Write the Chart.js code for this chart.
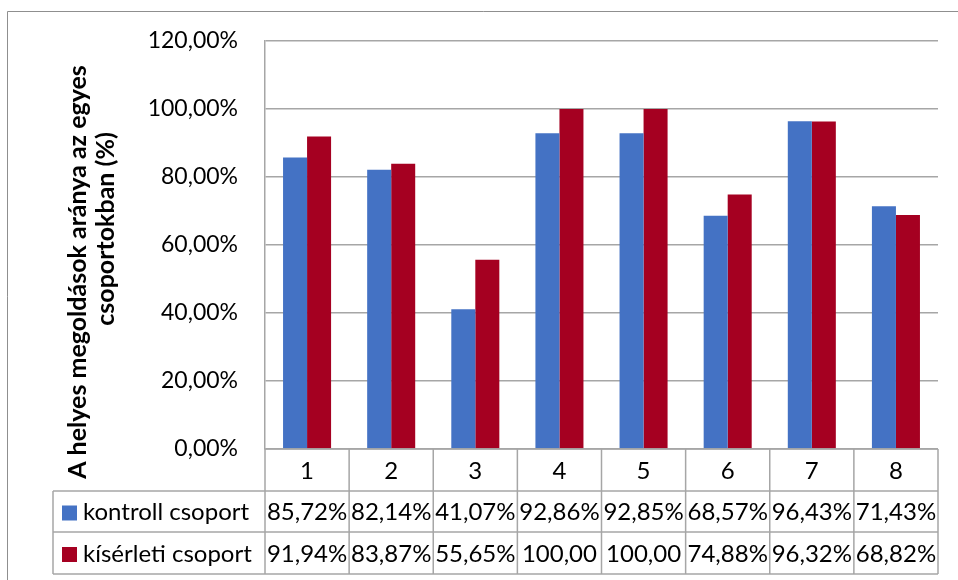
<!DOCTYPE html>
<html>
<head>
<meta charset="utf-8">
<script src="https://cdn.jsdelivr.net/npm/chart.js@4/dist/chart.umd.min.js"></script>
<style>
  html, body { margin: 0; padding: 0; background: #fff; }
  #wrap { width: 958px; height: 580px; position: relative; }
</style>
</head>
<body>
<div id="wrap"><canvas id="c" width="958" height="580"></canvas></div>
<script>
// Groups on the horizontal axis
const categories = ['1', '2', '3', '4', '5', '6', '7', '8'];
// Share of correct solutions per group (%)
const kontroll = [85.72, 82.14, 41.07, 92.86, 92.85, 68.57, 96.43, 71.43];
const kiserleti = [91.94, 83.87, 55.65, 100.00, 100.00, 74.88, 96.32, 68.82];
const seriesNames = ['kontroll csoport', 'kísérleti csoport'];
const seriesColors = ['#4472C4', '#A50021'];
// Vertical axis range and step (%)
const yMin = 0, yMax = 120, yStep = 20;
const yTitleLines = ['A helyes megoldások aránya az egyes', 'csoportokban (%)'];

const FONT = 'Lato, "Liberation Sans", sans-serif';
const LINE = '#a6a6a6';

function pct(v) {
  return v.toFixed(2).replace('.', ',') + '%';
}

// Outer frame of the chart object
const framePlugin = {
  id: 'frame',
  beforeDraw(chart) {
    const ctx = chart.ctx;
    ctx.save();
    ctx.strokeStyle = '#8f8f8f';
    ctx.lineWidth = 1;
    ctx.beginPath();
    ctx.moveTo(7.5, chart.height + 5);
    ctx.lineTo(7.5, 11.5);
    ctx.lineTo(chart.width + 5, 11.5);
    ctx.stroke();
    ctx.restore();
  }
};

// Data table under the plot: category row plus one row per series
const tablePlugin = {
  id: 'dataTable',
  afterDraw(chart) {
    const ctx = chart.ctx;
    const x = chart.scales.x;
    const area = chart.chartArea;
    const n = categories.length;
    const colW = (area.right - area.left) / n;
    const top = area.bottom;
    const rowH = [42, 41, 42];
    const rowY = [top, top + rowH[0], top + rowH[0] + rowH[1], top + rowH[0] + rowH[1] + rowH[2]];
    const tableLeft = 53;

    ctx.save();
    ctx.strokeStyle = LINE;
    ctx.lineWidth = 1.5;
    ctx.beginPath();
    // horizontal rules
    ctx.moveTo(area.left, rowY[0]); ctx.lineTo(area.right, rowY[0]);
    for (let r = 1; r < 4; r++) {
      ctx.moveTo(tableLeft, rowY[r]); ctx.lineTo(area.right, rowY[r]);
    }
    // left edge of the series rows
    ctx.moveTo(tableLeft, rowY[1]); ctx.lineTo(tableLeft, rowY[3]);
    // column separators
    for (let i = 0; i <= n; i++) {
      const cx = x.getPixelForValue(Math.min(i, n - 1)) + (i === n ? colW / 2 : -colW / 2);
      ctx.moveTo(cx, rowY[0]); ctx.lineTo(cx, rowY[3]);
    }
    ctx.stroke();

    ctx.fillStyle = '#000';
    ctx.font = '24px ' + FONT;
    ctx.textBaseline = 'middle';
    ctx.textAlign = 'center';
    categories.forEach((c, i) => {
      ctx.fillText(c, x.getPixelForValue(i), (rowY[0] + rowY[1]) / 2 + 1);
    });

    const rows = [kontroll, kiserleti];
    rows.forEach((vals, r) => {
      const cy = (rowY[r + 1] + rowY[r + 2]) / 2 + 1;
      // legend key + series name
      ctx.fillStyle = seriesColors[r];
      ctx.fillRect(62, cy - 7, 15, 15);
      ctx.fillStyle = '#000';
      ctx.textAlign = 'left';
      ctx.fillText(seriesNames[r], 83, cy);
      ctx.textAlign = 'center';
      vals.forEach((v, i) => {
        let t = pct(v);
        if (ctx.measureText(t).width > colW - 2) t = t.slice(0, -1);
        ctx.fillText(t, x.getPixelForValue(i), cy);
      });
    });
    ctx.restore();
  }
};

// Rotated two-line title of the value axis
const yTitlePlugin = {
  id: 'yTitle',
  afterDraw(chart) {
    const ctx = chart.ctx;
    ctx.save();
    ctx.fillStyle = '#000';
    ctx.font = 'bold 25px ' + FONT;
    ctx.textAlign = 'center';
    ctx.textBaseline = 'alphabetic';
    const pos = [[86, 272], [114, 229]];
    yTitleLines.forEach((line, k) => {
      ctx.save();
      ctx.translate(pos[k][0], pos[k][1]);
      ctx.rotate(-Math.PI / 2);
      ctx.fillText(line, 0, 0);
      ctx.restore();
    });
    ctx.restore();
  }
};

new Chart(document.getElementById('c'), {
  type: 'bar',
  data: {
    labels: categories,
    datasets: [
      { label: seriesNames[0], data: kontroll, backgroundColor: seriesColors[0] },
      { label: seriesNames[1], data: kiserleti, backgroundColor: seriesColors[1] }
    ]
  },
  options: {
    responsive: false,
    devicePixelRatio: 1,
    animation: false,
    layout: { padding: { top: 41, right: 20, bottom: 131, left: 0 } },
    datasets: { bar: { categoryPercentage: 0.571, barPercentage: 1.0 } },
    plugins: { legend: { display: false }, tooltip: { enabled: false } },
    scales: {
      x: { display: false },
      y: {
        min: yMin, max: yMax,
        afterFit(s) { s.width = 265; },
        ticks: {
          stepSize: yStep,
          padding: 27,
          color: '#000',
          font: { family: FONT, size: 23 },
          callback: v => pct(v)
        },
        grid: { color: LINE, lineWidth: 1.5, drawTicks: false },
        border: { color: LINE, width: 1.5 }
      }
    }
  },
  plugins: [framePlugin, tablePlugin, yTitlePlugin]
});
</script>
</body>
</html>
